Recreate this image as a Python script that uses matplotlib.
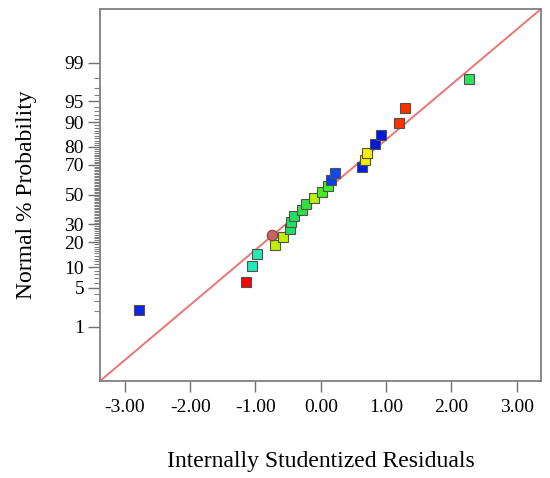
import matplotlib
matplotlib.use('Agg')
import matplotlib.pyplot as plt
from statistics import NormalDist

# Residuals (x) and normal % probability (y) of the 24 runs, in rank order
residuals = [-2.79, -1.14, -1.05, -0.98, -0.70, -0.58, -0.47, -0.46, -0.41, -0.29,
             -0.23, -0.10, 0.02, 0.11, 0.15, 0.21, 0.63, 0.68, 0.70, 0.83,
             0.92, 1.19, 1.29, 2.27]
probability = [2.08, 6.25, 10.4, 14.6, 18.75, 22.9, 27.1, 31.25, 35.4, 39.6,
               43.75, 47.9, 52.1, 56.25, 60.4, 64.6, 68.75, 72.9, 77.1, 81.25,
               85.4, 89.6, 93.75, 97.9]
point_colors = ['#0A28E6', '#FF0000', '#20E8B8', '#28E8B0', '#C0F000', '#C0F000',
                '#20E060', '#20E060', '#20E060', '#30E040', '#30E040', '#B8F000',
                '#40F020', '#40F020', '#0840F0', '#1048F0', '#0020E8', '#F0F000',
                '#F8F000', '#0018E0', '#0018E0', '#FF3000', '#FF3000', '#30E060']

# highlighted point (circle)
circle_x = [-0.75]
circle_p = [23.7]

# reference line in (residual, z) space
fit_slope = 0.972
fit_intercept = 0.0

y_major = [1, 5, 10, 20, 30, 50, 70, 80, 90, 95, 99]
x_ticks = [-3, -2, -1, 0, 1, 2, 3]

nd = NormalDist()


def to_z(p):
    return nd.inv_cdf(p / 100.0)


plt.rcParams['font.family'] = ['Liberation Serif', 'DejaVu Serif']

fig = plt.figure(figsize=(5.5, 4.78), dpi=100)
ax = fig.add_axes([0.1818, 0.2029, 0.8018, 0.7783])

xlim = (-3.38, 3.37)
ax.set_xlim(*xlim)
ax.set_ylim(-3.286, 3.275)

# fit line
ax.plot(xlim, [fit_slope * v + fit_intercept for v in xlim],
        color='#EC7474', lw=1.4, zorder=2)

zs = [to_z(p) for p in probability]
for x, z, c in zip(residuals, zs, point_colors):
    ax.plot(x, z, marker='s', ms=6.6, mfc=c, mec='#505050', mew=0.8,
            ls='none', zorder=3)

ax.plot(circle_x, [to_z(p) for p in circle_p], marker='o', ms=7.5,
        mfc='#C46464', mec='#7A4040', mew=0.8, ls='none', zorder=4)

# ticks
ax.set_xticks(x_ticks)
ax.set_xticklabels(['%.2f' % v for v in x_ticks])
ax.set_yticks([to_z(p) for p in y_major])
ax.set_yticklabels([str(p) for p in y_major])
ax.set_yticks([to_z(p) for p in range(1, 100) if p not in y_major], minor=True)

ax.tick_params(axis='x', which='major', direction='out', length=8, width=1,
               color='#707070', labelsize=14, pad=5)
ax.tick_params(axis='y', which='major', direction='out', length=8.5, width=1,
               color='#707070', labelsize=14, pad=3)
ax.tick_params(axis='y', which='minor', direction='out', length=4.3, width=0.8,
               color='#808080')

for s in ax.spines.values():
    s.set_color('#808080')
    s.set_linewidth(1.3)

ax.set_xlabel('Internally Studentized Residuals', fontsize=17, labelpad=25)
ax.set_ylabel('Normal % Probability', fontsize=17, labelpad=20)

fig.savefig('out.png', dpi=100)
